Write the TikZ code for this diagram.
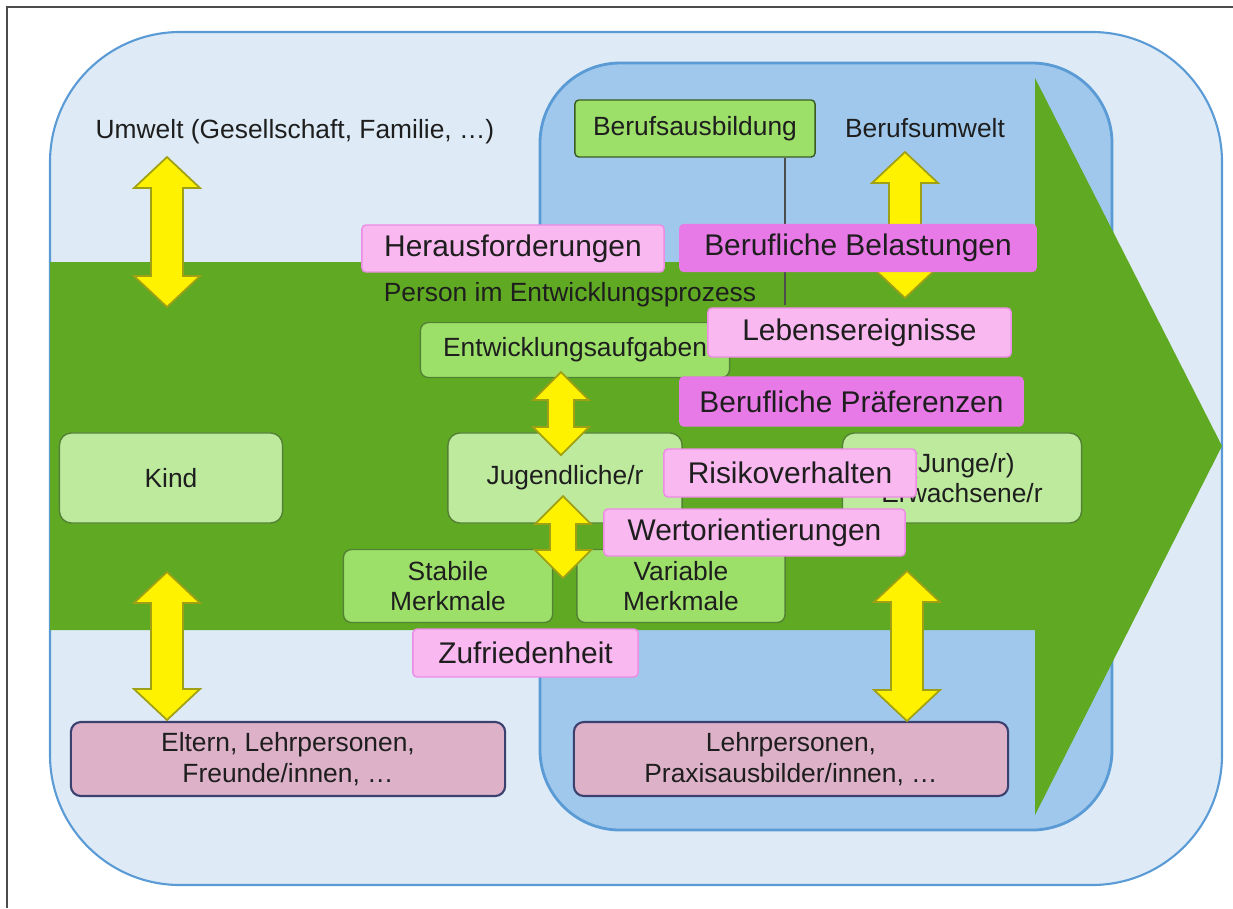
\documentclass[tikz,border=0pt]{standalone}
\usepackage{fontspec}
\setmainfont{Liberation Sans}
\usetikzlibrary{calc}
\definecolor{hellblau}{RGB}{222,235,247}
\definecolor{mittelblau}{RGB}{160,200,236}
\definecolor{randblau}{RGB}{91,155,213}
\definecolor{pfeilgruen}{RGB}{96,169,35}
\definecolor{hellgruen}{RGB}{190,234,158}
\definecolor{mittelgruen}{RGB}{157,224,105}
\definecolor{randgruen}{RGB}{84,130,53}
\definecolor{rosa}{RGB}{249,184,240}
\definecolor{rosarand}{RGB}{236,140,228}
\definecolor{violett}{RGB}{232,122,232}
\definecolor{altrosa}{RGB}{221,178,200}
\definecolor{altrosarand}{RGB}{60,64,110}
\definecolor{gelbrand}{RGB}{160,160,20}
\definecolor{schrift}{RGB}{30,30,30}
\tikzset{
  klein/.style={font=\fontsize{7.5}{8.6}\selectfont, text=schrift},
  gross/.style={font=\fontsize{8.5}{10}\selectfont, text=schrift},
  stufe/.style={klein, draw=randgruen, fill=hellgruen, rounded corners=0.12cm, minimum width=2.23cm, minimum height=0.9cm, align=center, inner sep=0pt},
  merkmal/.style={klein, draw=randgruen, fill=mittelgruen, rounded corners=0.08cm, align=center, inner sep=0pt},
  bezug/.style={klein, draw=altrosarand, fill=altrosa, rounded corners=0.1cm, minimum width=4.34cm, minimum height=0.74cm, align=center, inner sep=0pt, line width=0.6pt},
  faktor/.style={gross, draw=rosarand, fill=rosa, rounded corners=0.04cm, minimum height=0.47cm, inner sep=0pt},
  beruflich/.style={faktor, draw=violett, fill=violett},
  yarrow/.style={draw=gelbrand, fill=yellow, line width=0.5pt, line join=miter},
}
% top, bottom, head half width, shaft half width, head length
\def\dblarrow(#1)(#2)#3#4#5{\draw[yarrow] (#1) -- ($(#1)+(#3,#5)$) -- ($(#1)+(#4,#5)$) -- ($(#2)+(#4,-#5)$) -- ($(#2)+(#3,-#5)$) -- (#2) -- ($(#2)+(-#3,-#5)$) -- ($(#2)+(-#4,-#5)$) -- ($(#1)+(-#4,#5)$) -- ($(#1)+(-#3,#5)$) -- cycle;}

\begin{document}
\begin{tikzpicture}[x=0.01cm, y=-0.01cm]
			\useasboundingbox (0,0) rectangle (1233,908);
			
			%%%%% FRAME AND ENVIRONMENTS %%%%%
			\draw[black!70, line width=0.6pt] (1233,7) -- (7,7) -- (7,908);
			\draw[randblau, fill=hellblau, line width=0.6pt, rounded corners=1.3cm] (50,32) rectangle (1222,885);
			\draw[randblau, fill=mittelblau, line width=0.8pt, rounded corners=0.8cm] (540,63) rectangle (1112,830);
			
			%%%%% DEVELOPMENT ARROW %%%%%
			\fill[pfeilgruen] (50,262) -- (1035,262) -- (1035,78) -- (1222,446) -- (1035,815) -- (1035,630) -- (50,630) -- cycle;
			
			\node[klein] (umwelt) at (295,132) {Umwelt (Gesellschaft, Familie, …)};
			\node[klein] (berufsumwelt) at (925,128) {Berufsumwelt};
			\node[klein, draw=randgruen!70!black, fill=mittelgruen, rounded corners=0.04cm, minimum width=2.4cm, minimum height=0.57cm, inner sep=0pt] (ausbildung) at (695,128.5) {Berufsausbildung};
			\coordinate (ausbildungende) at (785,305);
			\draw[black!70, line width=0.8pt] (ausbildung.south -| ausbildungende) -- (ausbildungende);
			\node[klein] (prozess) at (570,295) {Person im Entwicklungsprozess};
			
			\node[merkmal, minimum width=3.09cm, minimum height=0.55cm] (aufgaben) at (575,350) {Entwicklungsaufgaben};
			\node[stufe] (kind) at (171,478) {Kind};
			\node[stufe, minimum width=2.34cm] (jugend) at (565,478) {Jugendliche/r};
			\node[stufe, minimum width=2.39cm] (erwachsen) at (962,478) {(Junge/r)\\Erwachsene/r};
			\node[merkmal, minimum width=2.09cm, minimum height=0.73cm] (stabil) at (448,586) {Stabile\\Merkmale};
			\node[merkmal, minimum width=2.08cm, minimum height=0.73cm] (variabel) at (681,586) {Variable\\Merkmale};
			
			\node[bezug] (eltern) at (288,759) {Eltern, Lehrpersonen,\\Freunde/innen, …};
			\node[bezug] (lehrer) at (791,759) {Lehrpersonen,\\Praxisausbilder/innen, …};
			
			%%%%% EXCHANGE ARROWS %%%%%
			\coordinate (u1) at (167,157); \coordinate (u2) at (167,307);
			\coordinate (l1) at (167,572); \coordinate (l2) at (167,720);
			\coordinate (m1) at (561,372); \coordinate (m2) at (561,455);
			\coordinate (n1) at (563,496); \coordinate (n2) at (563,578);
			\coordinate (b1) at (905,152); \coordinate (b2) at (905,298);
			\coordinate (p1) at (907,571); \coordinate (p2) at (907,721);
			\dblarrow(u1)(u2){33}{16}{31}
			\dblarrow(l1)(l2){33}{16}{31}
			\dblarrow(m1)(m2){28}{13}{28}
			\dblarrow(n1)(n2){28}{13}{28}
			\dblarrow(b1)(b2){33}{16}{31}
			\dblarrow(p1)(p2){33}{16}{31}
			
			%%%%% INFLUENCES %%%%%
			\node[faktor, minimum width=3.02cm] (heraus) at (513,248.5) {Herausforderungen};
			\node[beruflich, minimum width=3.56cm] (belastung) at (858,248) {Berufliche Belastungen};
			\node[faktor, minimum width=3.03cm, minimum height=0.49cm] (ereignis) at (859.5,332.5) {Lebensereignisse};
			\node[beruflich, minimum width=3.43cm, minimum height=0.49cm] (praeferenz) at (851.5,401.5) {Berufliche Präferenzen};
			\node[faktor, minimum width=2.52cm, minimum height=0.48cm] (risiko) at (790,473) {Risikoverhalten};
			\node[faktor, minimum width=3.01cm] (werte) at (754.5,532.5) {Wertorientierungen};
			\node[faktor, minimum width=2.25cm, minimum height=0.48cm] (zufrieden) at (525.5,653) {Zufriedenheit};
\end{tikzpicture}
\end{document}
